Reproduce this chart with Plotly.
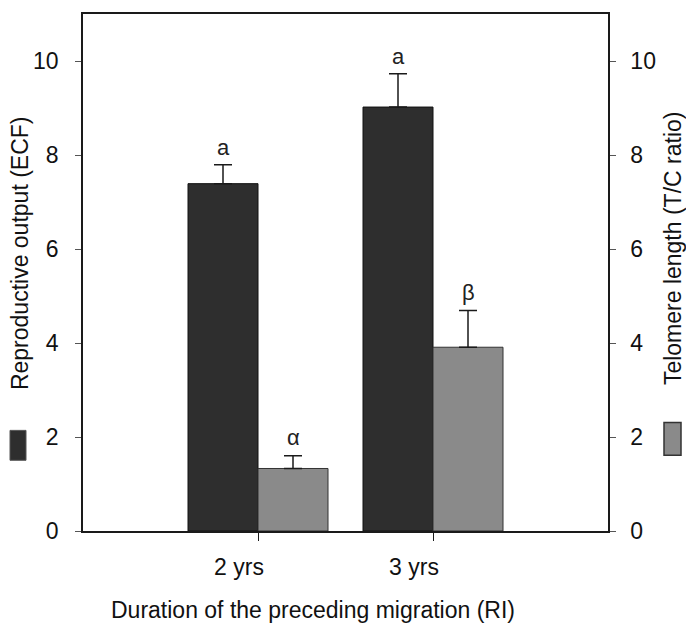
import plotly.graph_objects as go

# ---- data ----
categories = ["2 yrs", "3 yrs"]
ecf_values = [7.39, 9.02]        # Reproductive output (ECF), left axis
ecf_errors = [0.40, 0.71]
tc_values = [1.33, 3.91]         # Telomere length (T/C ratio), right axis
tc_errors = [0.27, 0.78]
ecf_letters = ["a", "a"]
tc_letters = ["α", "β"]
y_ticks = [0, 2, 4, 6, 8, 10]

# ---- style ----
FONT = "Liberation Sans, Arial, sans-serif"
W, H = 686, 624
ML, MR, MT, MB = 83, 78, 12, 93
plot_w = W - ML - MR
plot_h = H - MT - MB
X_RANGE = [-1, 2]
BAR_W = 0.4
px_per_cat = plot_w / (X_RANGE[1] - X_RANGE[0])
DARK = "#2e2e2e"
LIGHT = "#8a8a8a"
AX = "#1a1a1a"
FS = 23

fig = go.Figure()
fig.add_trace(go.Bar(
    x=categories, y=ecf_values, yaxis="y", offsetgroup="1",
    marker=dict(color=DARK, line=dict(color="#111111", width=1)),
    error_y=dict(type="data", symmetric=False, array=ecf_errors,
                 arrayminus=[0] * len(ecf_errors), color=AX, thickness=1.5, width=9),
    showlegend=False,
))
fig.add_trace(go.Bar(
    x=categories, y=tc_values, yaxis="y2", offsetgroup="2",
    marker=dict(color=LIGHT, line=dict(color="#333333", width=1)),
    error_y=dict(type="data", symmetric=False, array=tc_errors,
                 arrayminus=[0] * len(tc_errors), color=AX, thickness=1.5, width=9),
    showlegend=False,
))

annotations = []
shift = BAR_W / 2 * px_per_cat
for c, v, e, t in zip(categories, ecf_values, ecf_errors, ecf_letters):
    annotations.append(dict(x=c, y=v + e, xref="x", yref="y", text=t, showarrow=False,
                            xshift=-shift, yanchor="bottom", yshift=3,
                            font=dict(family=FONT, size=22, color="#222")))
for c, v, e, t in zip(categories, tc_values, tc_errors, tc_letters):
    annotations.append(dict(x=c, y=v + e, xref="x", yref="y2", text=t, showarrow=False,
                            xshift=shift, yanchor="bottom", yshift=4,
                            font=dict(family=FONT, size=22, color="#222")))

def px(x):
    return (x - ML) / plot_w

def py(y):
    return (H - MB - y) / plot_h

# axis titles
annotations.append(dict(x=px(20), y=py(252), xref="paper", yref="paper",
                        text="Reproductive output (ECF)", textangle=-90, showarrow=False,
                        xanchor="center", yanchor="middle",
                        font=dict(family=FONT, size=FS, color="#111")))
annotations.append(dict(x=px(673), y=py(247), xref="paper", yref="paper",
                        text="Telomere length (T/C ratio)", textangle=-90, showarrow=False,
                        xanchor="center", yanchor="middle",
                        font=dict(family=FONT, size=FS, color="#111")))
annotations.append(dict(x=px(313), y=py(610), xref="paper", yref="paper",
                        text="Duration of the preceding migration (RI)", showarrow=False,
                        xanchor="center", yanchor="middle",
                        font=dict(family=FONT, size=FS, color="#111")))

shapes = [
    dict(type="rect", xref="paper", yref="paper", x0=px(10), x1=px(26), y0=py(460), y1=py(430),
         fillcolor=DARK, line=dict(color="#555", width=1)),
    dict(type="rect", xref="paper", yref="paper", x0=px(664), x1=px(681), y0=py(455), y1=py(422),
         fillcolor=LIGHT, line=dict(color="#333", width=1.5)),
]

fig.update_layout(
    width=W, height=H,
    margin=dict(l=ML, r=MR, t=MT, b=MB, pad=0),
    paper_bgcolor="white", plot_bgcolor="white",
    barmode="group", bargap=0.2, bargroupgap=0,
    font=dict(family=FONT, size=FS, color="#111"),
    xaxis=dict(type="category", categoryorder="array", categoryarray=categories,
               range=X_RANGE, showline=True, linecolor=AX, linewidth=1.5, mirror=True,
               ticks="outside", ticklen=8, tickcolor=AX, tickwidth=1.2,
               ticklabelshift=-19, ticklabelstandoff=7,
               tickfont=dict(family=FONT, size=FS, color="#111"), showgrid=False),
    yaxis=dict(range=[0, 11], tickvals=y_ticks, showline=True, linecolor=AX, linewidth=1.5,
               ticks="outside", ticklen=6, tickcolor="#555", tickwidth=1,
               ticklabelstandoff=12, showgrid=False, zeroline=False,
               tickfont=dict(family=FONT, size=FS, color="#111")),
    yaxis2=dict(range=[0, 11], tickvals=y_ticks, overlaying="y", side="right",
                showline=True, linecolor=AX, linewidth=1.5,
                ticks="outside", ticklen=6, tickcolor="#555", tickwidth=1,
                ticklabelstandoff=10, showgrid=False, zeroline=False,
                tickfont=dict(family=FONT, size=FS, color="#111")),
    annotations=annotations,
    shapes=shapes,
)

fig.write_html("out.html", config={"displayModeBar": False},
               post_script="document.body.style.margin='0';")
